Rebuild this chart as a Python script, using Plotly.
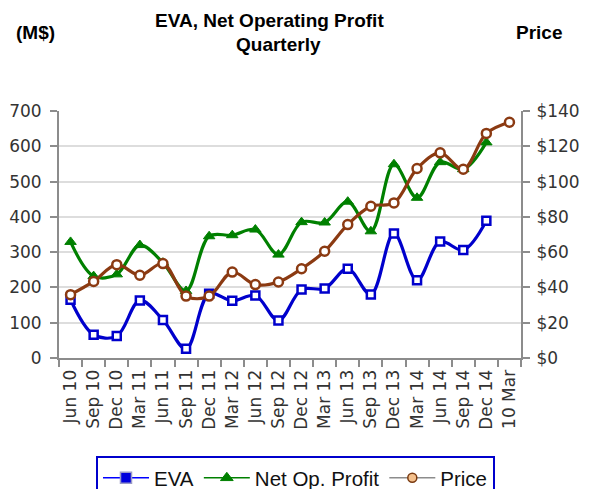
import plotly.graph_objects as go

categories = ["Jun 10", "Sep 10", "Dec 10", "Mar 11", "Jun 11", "Sep 11", "Dec 11",
              "Mar 12", "Jun 12", "Sep 12", "Dec 12", "Mar 13", "Jun 13", "Sep 13",
              "Dec 13", "Mar 14", "Jun 14", "Sep 14", "Dec 14", "10 Mar"]

eva = [165, 66, 62, 163, 108, 26, 182, 162, 177, 106, 194, 197, 253, 180, 353,
       220, 330, 306, 389, None]
net_op_profit = [329, 232, 237, 320, 270, 190, 345, 348, 364, 293, 385, 384, 443,
                 359, 549, 454, 555, 535, 611, None]
price = [35.9, 43.4, 52.9, 46.9, 53.5, 35.1, 35.1, 48.7, 41.6, 43.1, 50.6, 60.5,
         75.6, 86.0, 87.9, 107.4, 116.3, 107.0, 127.3, 133.6]

left_ticks = [0, 100, 200, 300, 400, 500, 600, 700]
right_ticks = [0, 20, 40, 60, 80, 100, 120, 140]

BLUE = "#0000cc"
GREEN = "#008000"
BROWN = "#8b3a12"
TICKFONT = dict(family="DejaVu Sans", size=17, color="#333333")

# page body has an 8px margin, so the figure is placed at (8, 8)
W, H = 584, 481
ML, MT, MR, MB = 51, 103, 71, 131
PW = W - ML - MR
PH = H - MT - MB


def px(x):  # page x -> paper x
    return (x - 8 - ML) / PW


def py(y):  # page y -> paper y
    return (H - MB - (y - 8)) / PH


fig = go.Figure()

fig.add_trace(go.Scatter(
    x=categories, y=net_op_profit, mode="lines+markers", name="Net Op. Profit",
    line=dict(color=GREEN, width=3.2, shape="spline", smoothing=1.0),
    marker=dict(symbol="triangle-up", size=10, color=GREEN,
                line=dict(color=GREEN, width=1)),
    showlegend=False, yaxis="y"))

fig.add_trace(go.Scatter(
    x=categories, y=eva, mode="lines+markers", name="EVA",
    line=dict(color=BLUE, width=3.2, shape="spline", smoothing=1.0),
    marker=dict(symbol="square", size=8, color="white",
                line=dict(color=BLUE, width=2.5)),
    showlegend=False, yaxis="y"))

fig.add_trace(go.Scatter(
    x=categories, y=price, mode="lines+markers", name="Price",
    line=dict(color=BROWN, width=3.2, shape="spline", smoothing=1.0),
    marker=dict(symbol="circle", size=9, color="white",
                line=dict(color=BROWN, width=2.5)),
    showlegend=False, yaxis="y2"))

# legend entries (styled like the reference legend)
fig.add_trace(go.Scatter(
    x=[None], y=[None], mode="lines+markers", name="EVA",
    line=dict(color="#0000ff", width=1.5),
    marker=dict(symbol="square", size=11, color="#0000dd",
                line=dict(color="#9a9ac8", width=1.5))))
fig.add_trace(go.Scatter(
    x=[None], y=[None], mode="lines+markers", name="Net Op. Profit",
    line=dict(color=GREEN, width=1.5),
    marker=dict(symbol="triangle-up", size=11, color=GREEN,
                line=dict(color=GREEN, width=1))))
fig.add_trace(go.Scatter(
    x=[None], y=[None], mode="lines+markers", name="Price",
    line=dict(color="#8c8c8c", width=1.5),
    marker=dict(symbol="circle", size=9, color="#f4c08c",
                line=dict(color="#7a3a10", width=1.5))))

fig.update_layout(
    width=W, height=H,
    margin=dict(l=ML, r=MR, t=MT, b=MB, pad=0, autoexpand=False),
    paper_bgcolor="white", plot_bgcolor="white",
    font=dict(family="Liberation Sans, Arial", color="black"),
    xaxis=dict(
        type="category", categoryorder="array", categoryarray=categories,
        range=[-0.5, 19.5], tickson="boundaries", ticks="outside", ticklen=7,
        tickwidth=1.5, tickcolor="#8c8c8c", showline=True, linecolor="#8c8c8c",
        linewidth=2, showgrid=False, tickangle=-90, tickfont=TICKFONT,
        ticklabelstandoff=3, automargin=False, zeroline=False),
    yaxis=dict(
        range=[0, 700], tickvals=left_ticks, ticks="outside", ticklen=7,
        tickwidth=1.5, tickcolor="#8c8c8c", showline=True, linecolor="#8c8c8c",
        linewidth=2, showgrid=True, gridcolor="#dddddd", gridwidth=1.5,
        zeroline=False, tickfont=TICKFONT, ticklabelstandoff=5,
        automargin=False),
    yaxis2=dict(
        range=[0, 140], tickvals=right_ticks,
        ticktext=["$" + str(v) for v in right_ticks],
        overlaying="y", side="right", ticks="outside", ticklen=7,
        tickwidth=1.5, tickcolor="#8c8c8c", showline=True, linecolor="#8c8c8c",
        linewidth=2, showgrid=False, zeroline=False, tickfont=TICKFONT,
        ticklabelstandoff=3, automargin=False),
    legend=dict(
        orientation="h", x=px(96), xanchor="left", y=py(456), yanchor="top",
        bordercolor="#0000cc", borderwidth=2, bgcolor="white",
        font=dict(family="Liberation Sans, Arial", size=20.5, color="#111111"),
        itemwidth=46, tracegroupgap=0),
    annotations=[
        dict(text="<b>(M$)</b>", xref="paper", yref="paper", x=px(35), y=py(33),
             xanchor="center", yanchor="middle", showarrow=False,
             font=dict(family="Liberation Sans, Arial", size=19, color="black")),
        dict(text="<b>EVA, Net Operating Profit</b>", xref="paper",
             yref="paper", x=px(269), y=py(21), xanchor="center", yanchor="middle",
             showarrow=False,
             font=dict(family="Liberation Sans, Arial", size=19, color="black")),
        dict(text="<b>Quarterly</b>", xref="paper",
             yref="paper", x=px(278), y=py(44), xanchor="center", yanchor="middle",
             showarrow=False,
             font=dict(family="Liberation Sans, Arial", size=19, color="black")),
        dict(text="<b>Price</b>", xref="paper", yref="paper", x=px(539), y=py(32),
             xanchor="center", yanchor="middle", showarrow=False,
             font=dict(family="Liberation Sans, Arial", size=19, color="black")),
    ],
)

fig.write_html("out.html")
